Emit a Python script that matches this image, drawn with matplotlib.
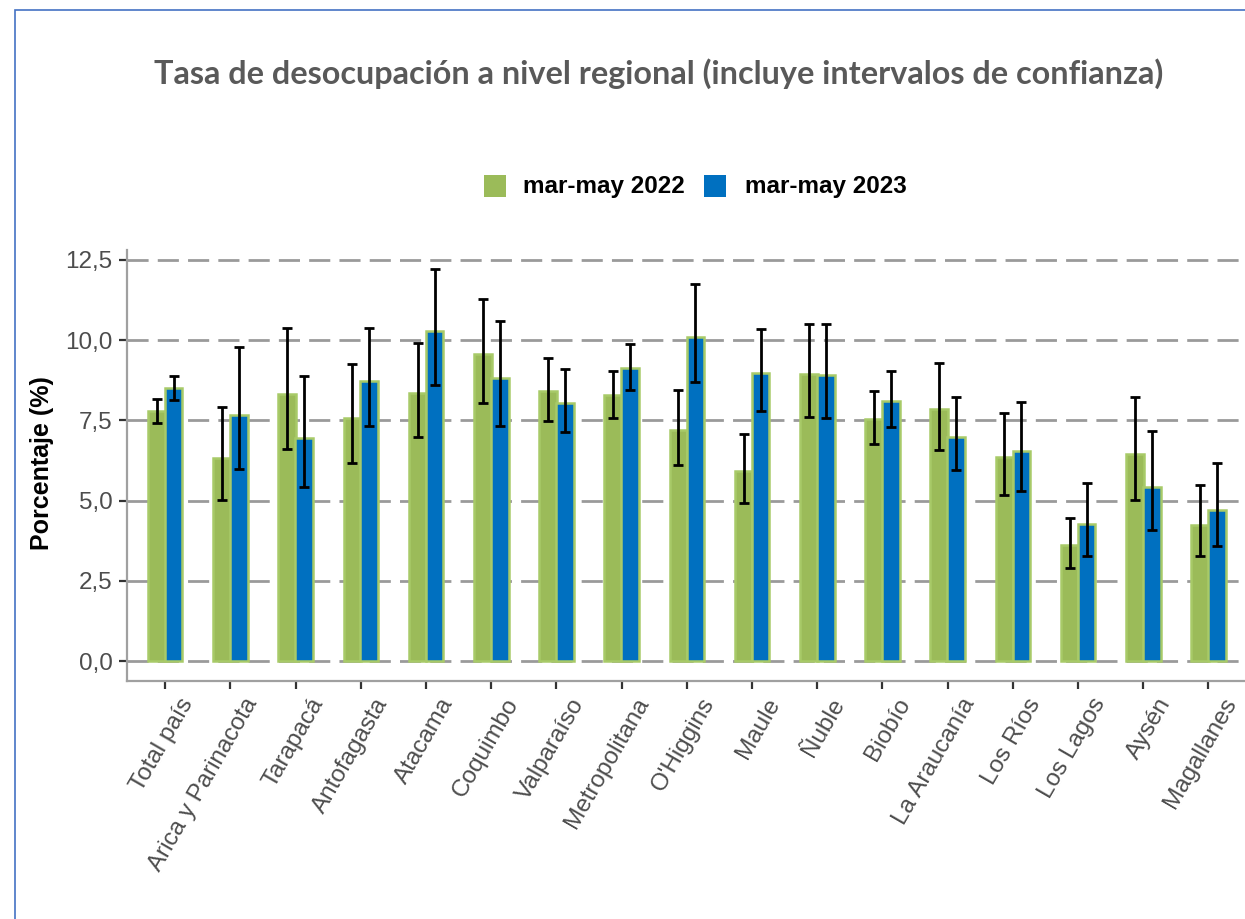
import matplotlib
matplotlib.use("Agg")
import matplotlib.pyplot as plt
from matplotlib.patches import Rectangle
from matplotlib.transforms import ScaledTranslation
import numpy as np

categories = ["Total país", "Arica y Parinacota", "Tarapacá", "Antofagasta", "Atacama",
              "Coquimbo", "Valparaíso", "Metropolitana", "O'Higgins", "Maule", "Ñuble",
              "Biobío", "La Araucanía", "Los Ríos", "Los Lagos", "Aysén", "Magallanes"]
v2022 = [7.80, 6.32, 8.32, 7.59, 8.36, 9.56, 8.42, 8.29, 7.21, 5.93, 8.95, 7.54, 7.84, 6.36, 3.62, 6.44, 4.25]
lo2022 = [7.42, 5.01, 6.61, 6.17, 6.99, 8.05, 7.49, 7.59, 6.12, 4.93, 7.60, 6.75, 6.57, 5.19, 2.89, 5.01, 3.27]
hi2022 = [8.18, 7.93, 10.37, 9.27, 9.91, 11.27, 9.43, 9.03, 8.46, 7.09, 10.50, 8.42, 9.29, 7.72, 4.46, 8.24, 5.49]
v2023 = [8.50, 7.68, 6.94, 8.74, 10.28, 8.81, 8.05, 9.12, 10.10, 8.98, 8.90, 8.11, 6.99, 6.54, 4.26, 5.43, 4.71]
lo2023 = [8.13, 6.00, 5.42, 7.34, 8.61, 7.32, 7.14, 8.44, 8.70, 7.80, 7.56, 7.30, 5.95, 5.29, 3.29, 4.09, 3.59]
hi2023 = [8.89, 9.79, 8.87, 10.37, 12.23, 10.59, 9.11, 9.88, 11.75, 10.34, 10.49, 9.04, 8.23, 8.07, 5.55, 7.17, 6.18]
series_labels = ["mar-may 2022", "mar-may 2023"]
yticks = [0, 2.5, 5, 7.5, 10, 12.5]
ytick_labels = ["0,0", "2,5", "5,0", "7,5", "10,0", "12,5"]
title = "Tasa de desocupación a nivel regional (incluye intervalos de confianza)"
ylabel = "Porcentaje (%)"

GREEN = "#9BBB59"
BLUE = "#0070C0"
EDGE = "#A8CA68"
GRID = "#9A9A9A"
TXT = "#4D4D4D"

W, H = 1245, 919
fig = plt.figure(figsize=(W / 100, H / 100), dpi=100)
fig.patch.set_facecolor("white")

def fx(px):
    return px / W

def fy(py):
    return 1 - py / H

# outer frame (cut at right/bottom like reference)
fig.patches.append(Rectangle((fx(15), fy(H + 20)), 2, fy(10) - fy(H + 20),
                             transform=fig.transFigure, fill=False,
                             edgecolor="#4472C4", linewidth=1.2, zorder=0))

ax = fig.add_axes([fx(127), fy(681), 1 - fx(127), fy(250) - fy(681)])

x = np.arange(len(categories))
off = 0.13
bw = 0.27
g = np.array(v2022)
b = np.array(v2023)
ax.bar(x - off, g, width=bw, color=GREEN, edgecolor=EDGE, linewidth=1.8, zorder=3)
ax.bar(x + off, b, width=bw, color=BLUE, edgecolor=EDGE, linewidth=1.8, zorder=3)
ax.errorbar(x - off, g, yerr=[g - np.array(lo2022), np.array(hi2022) - g], fmt="none",
            ecolor="black", elinewidth=2.0, capsize=3.4, capthick=2.0, zorder=4)
ax.errorbar(x + off, b, yerr=[b - np.array(lo2023), np.array(hi2023) - b], fmt="none",
            ecolor="black", elinewidth=2.0, capsize=3.4, capthick=2.0, zorder=4)

ax.set_xlim(-0.586, 16.56)
ax.set_ylim(-0.62, 12.81)
ax.set_yticks(yticks)
ax.set_yticklabels(ytick_labels)
for yv in yticks:
    ax.axhline(yv, color=GRID, linewidth=2.0, linestyle=(0, (7.6, 3.3)), zorder=1)

ax.set_xticks(x)
ax.set_xticklabels(categories, rotation=60, ha="right", va="top", rotation_mode="anchor")

for s in ["top", "right"]:
    ax.spines[s].set_visible(False)
for s in ["left", "bottom"]:
    ax.spines[s].set_color("#A0A0A0")
    ax.spines[s].set_linewidth(1.6)
ax.tick_params(axis="both", colors="#333333", width=1.6, length=5.5, labelcolor=TXT,
               labelsize=17.5)
ax.tick_params(axis="y", pad=5)
ax.tick_params(axis="x", pad=4)
shift = ScaledTranslation(13 / 100, 0, fig.dpi_scale_trans)
for lab in ax.get_xticklabels():
    lab.set_fontfamily("Liberation Sans")
    lab.set_transform(lab.get_transform() + shift)
for lab in ax.get_yticklabels():
    lab.set_fontfamily("Liberation Sans")

ax.set_ylabel(ylabel, fontsize=18, fontweight="bold", fontfamily="Liberation Sans",
              color="black", va="center")
ax.yaxis.set_label_coords((42 - 127) / (W - 127), 0.5 + ((681 + 250) / 2 - 463) / (681 - 250))

# title fitted to reference width
t = fig.text(fx(659), fy(83.5), title, ha="center", va="baseline", fontsize=22,
             fontweight="bold", fontfamily="Lato", color="#595959")
fig.canvas.draw()
r = fig.canvas.get_renderer()
wpx = t.get_window_extent(r).width
t.set_fontsize(22 * 1008 / wpx)

# legend
sq = 22
for px0, col, lab, tx in [(484, GREEN, series_labels[0], 523), (704, BLUE, series_labels[1], 745)]:
    fig.patches.append(Rectangle((fx(px0), fy(197)), sq / W, sq / H, transform=fig.transFigure,
                                 facecolor=col, edgecolor="none"))
    fig.text(fx(tx), fy(186), lab, ha="left", va="center", fontsize=17.5,
             fontweight="bold", fontfamily="Liberation Sans", color="black")

fig.savefig("out.png", dpi=100, facecolor="white")
